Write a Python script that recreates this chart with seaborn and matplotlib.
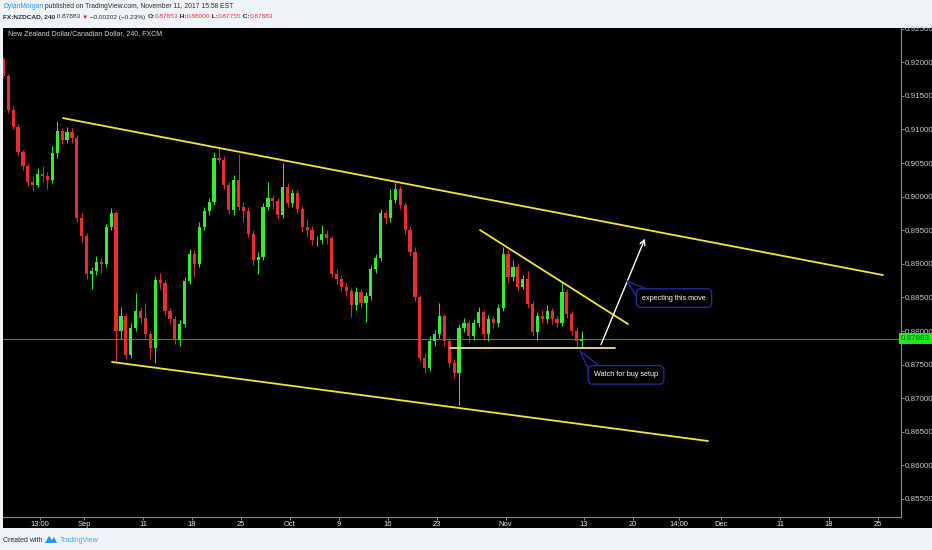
import numpy as np
import matplotlib
matplotlib.use("Agg")
import matplotlib.pyplot as plt
import matplotlib.transforms as mtransforms
from matplotlib.patches import Rectangle, Polygon
import seaborn as sns

# NZDCAD (x = trading day since Aug 21)
first_open = 0.9205
closes = [
    0.9180, 0.9129, 0.9104, 0.9066, 0.9045, 0.9022, 0.9018, 0.9034, 0.9030, 0.9025,
    0.9065, 0.9098, 0.9085, 0.9096, 0.9088, 0.8968, 0.8942, 0.8885, 0.8890, 0.8902,
    0.8900, 0.8955, 0.8975, 0.8800, 0.8822, 0.8765, 0.8805, 0.8830, 0.8820, 0.8795,
    0.8775, 0.8876, 0.8872, 0.8830, 0.8818, 0.8787, 0.8810, 0.8875, 0.8914, 0.8900,
    0.8955, 0.8978, 0.8992, 0.9058, 0.9055, 0.9018, 0.8980, 0.9025, 0.8985, 0.8978,
    0.8945, 0.8905, 0.8910, 0.8985, 0.8998, 0.8993, 0.8972, 0.9015, 0.8990, 0.9005,
    0.8982, 0.8955, 0.8950, 0.8935, 0.8935, 0.8945, 0.8938, 0.8885, 0.8878, 0.8866,
    0.8860, 0.8838, 0.8858, 0.8842, 0.8852, 0.8893, 0.8908, 0.8975, 0.8968, 0.8995,
    0.9012, 0.8988, 0.8950, 0.8918, 0.8850, 0.8760, 0.8745, 0.8785, 0.8795, 0.8822,
    0.8785, 0.8752, 0.8738, 0.8805, 0.8812, 0.8792, 0.8812, 0.8828, 0.8795, 0.8818,
    0.8812, 0.8835, 0.8915, 0.8880, 0.8895, 0.8866, 0.8878, 0.8840, 0.8798, 0.8822,
    0.8818, 0.8830, 0.8818, 0.8812, 0.8858, 0.8825, 0.8800, 0.8785, 0.87883]
highs = [
    0.9208, 0.9183, 0.9135, 0.9108, 0.9070, 0.9050, 0.9030, 0.9042, 0.9046, 0.9036,
    0.9076, 0.9112, 0.9102, 0.9104, 0.9102, 0.9092, 0.8975, 0.8946, 0.8895, 0.8912,
    0.8908, 0.8960, 0.8983, 0.8978, 0.8836, 0.8826, 0.8812, 0.8856, 0.8836, 0.8842,
    0.8800, 0.8882, 0.8886, 0.8876, 0.8834, 0.8822, 0.8816, 0.8880, 0.8922, 0.8920,
    0.8962, 0.8985, 0.8998, 0.9066, 0.9076, 0.9060, 0.9022, 0.9032, 0.9064, 0.8992,
    0.8984, 0.8950, 0.8918, 0.8990, 0.9022, 0.9002, 0.8998, 0.9050, 0.9020, 0.9012,
    0.9010, 0.8986, 0.8966, 0.8956, 0.8942, 0.8958, 0.8950, 0.8942, 0.8892, 0.8884,
    0.8872, 0.8864, 0.8866, 0.8862, 0.8858, 0.8898, 0.8914, 0.8982, 0.8980, 0.9012,
    0.9021, 0.9016, 0.8992, 0.8956, 0.8925, 0.8854, 0.8766, 0.8792, 0.8802, 0.8842,
    0.8826, 0.8790, 0.8758, 0.8810, 0.8820, 0.8816, 0.8818, 0.8836, 0.8832, 0.8824,
    0.8822, 0.8840, 0.8925, 0.8920, 0.8905, 0.8900, 0.8884, 0.8890, 0.8844, 0.8828,
    0.8832, 0.8838, 0.8834, 0.8822, 0.8873, 0.8862, 0.8830, 0.8806, 0.8800]
lows = [
    0.9176, 0.9124, 0.9100, 0.9060, 0.9040, 0.9016, 0.9008, 0.9014, 0.9022, 0.9012,
    0.9020, 0.9058, 0.9078, 0.9080, 0.9080, 0.8962, 0.8932, 0.8878, 0.8862, 0.8884,
    0.8886, 0.8895, 0.8950, 0.8754, 0.8788, 0.8758, 0.8760, 0.8800, 0.8810, 0.8790,
    0.8758, 0.8752, 0.8862, 0.8824, 0.8812, 0.8780, 0.8778, 0.8806, 0.8870, 0.8880,
    0.8896, 0.8950, 0.8972, 0.8988, 0.9050, 0.9012, 0.8974, 0.8972, 0.8980, 0.8962,
    0.8940, 0.8898, 0.8885, 0.8905, 0.8980, 0.8982, 0.8966, 0.8968, 0.8985, 0.8985,
    0.8976, 0.8948, 0.8940, 0.8928, 0.8926, 0.8930, 0.8930, 0.8880, 0.8870, 0.8860,
    0.8852, 0.8821, 0.8832, 0.8834, 0.8813, 0.8846, 0.8886, 0.8904, 0.8960, 0.8962,
    0.8990, 0.8982, 0.8944, 0.8912, 0.8844, 0.8755, 0.8738, 0.8740, 0.8778, 0.8790,
    0.8778, 0.8746, 0.8730, 0.8690, 0.8798, 0.8784, 0.8786, 0.8806, 0.8786, 0.8785,
    0.8804, 0.8806, 0.8830, 0.8872, 0.8874, 0.8860, 0.8862, 0.8834, 0.8792, 0.8787,
    0.8812, 0.8812, 0.8810, 0.8806, 0.8808, 0.8820, 0.8794, 0.8776, 0.87755]

tick_days = [4.5, 9, 15, 20, 25, 30, 35, 40, 45, 52, 60, 65, 69.7, 74, 80, 85, 90]
tick_labels = ["13:00", "Sep", "11", "18", "25", "Oct", "9", "16", "23", "Nov",
               "13", "20", "14:00", "Dec", "11", "18", "25"]
price_ticks = [0.855, 0.860, 0.865, 0.870, 0.875, 0.880, 0.885, 0.890,
               0.895, 0.900, 0.905, 0.910, 0.915, 0.920, 0.925]

# drawings (day, price)
upper_line = ([6.84, 90.51], [0.91169, 0.88833])
lower_line = ([11.84, 72.65], [0.87539, 0.86363])
wedge_line = ([49.39, 64.49], [0.89503, 0.88104])
support_line = ([46.33, 63.16], [0.8775, 0.8775])
arrow_move = ([61.63, 66.33], [0.8776, 0.89414])

W, H = 932, 550
sns.set_theme(style="dark", rc={"axes.facecolor": "black"})
plt.rcParams["font.family"] = ["Liberation Sans", "DejaVu Sans"]
NARROW = ["Liberation Sans Narrow", "Liberation Sans", "DejaVu Sans"]

fig = plt.figure(figsize=(W / 100, H / 100), dpi=100, facecolor="#f0f3f7")


def fx(px):
    return px / W


def fy(py):
    return 1 - py / H


fig.patches.append(Rectangle((fx(3), fy(528)), (W - 3) / W, 500 / H,
                             transform=fig.transFigure, fc="black", ec="none", zorder=-5))

ax = fig.add_axes([fx(3), fy(517), (901 - 3) / W, (517 - 28) / H])
ax.set_facecolor("black")
ax.grid(False)

n = len(closes)
x = np.arange(n) * 0.5 + 0.75
c = np.array(closes)
o = np.r_[first_open, c[:-1]]
colors = np.where(c >= o, "#33ec33", "#e62e2e")
ax.vlines(x, lows, highs, color=colors, lw=0.7, zorder=2)
ax.bar(x, np.abs(c - o), bottom=np.minimum(o, c), width=0.32, color=colors,
       linewidth=0, zorder=3)

ax.axhline(closes[-1], color="#1e9e1e", lw=0.8, zorder=1)

yellow = "#f2e43a"
for (xs, ys), col in [(upper_line, yellow), (lower_line, yellow), (wedge_line, yellow),
                      (support_line, "#ece08e")]:
    sns.lineplot(x=xs, y=ys, ax=ax, color=col, lw=1.3, zorder=4)

ax.annotate("", xy=(arrow_move[0][1], arrow_move[1][1]),
            xytext=(arrow_move[0][0], arrow_move[1][0]),
            arrowprops=dict(arrowstyle="->", color="white", lw=1.0, mutation_scale=9),
            zorder=5)

navy = "#1f2c94"
callouts = [
    ("expecting this move", (69.18, 0.8849), (64.39, 0.88742), [(65.41, 0.88505), (66.43, 0.88623)]),
    ("Watch for buy setup", (64.29, 0.87347), (59.59, 0.87703), [(60.61, 0.87377), (61.43, 0.87495)]),
]
for label, (bx, by), (tx, ty), base in callouts:
    for px_, py_ in base:
        ax.plot([tx, px_], [ty, py_], color=navy, lw=1.0, zorder=6)
    ax.text(bx, by, label, color="white", fontsize=5.2, family=NARROW, ha="center", va="center",
            zorder=7, bbox=dict(boxstyle="round,pad=0.8,rounding_size=0.6", fc="black",
                                ec=navy, lw=1.0))

ax.set_xlim(0.714, 92.35)
ax.set_ylim(0.85232, 0.9251)

for side in ["top", "left"]:
    ax.spines[side].set_visible(False)
for side in ["right", "bottom"]:
    ax.spines[side].set_visible(True)
    ax.spines[side].set_color("#8a8a8a")
    ax.spines[side].set_linewidth(0.8)

ax.yaxis.tick_right()
ax.set_yticks(price_ticks)
ax.set_yticklabels([f"{v:.5f}" for v in price_ticks])
ax.set_xticks(tick_days)
ax.set_xticklabels(tick_labels)
ax.tick_params(axis="y", which="both", right=True, left=False, colors="#9a9a9a",
               labelcolor="#c8c8c8", labelsize=5.8, length=2, width=0.6, pad=0.5)
ax.tick_params(axis="x", bottom=True, colors="#9a9a9a", labelcolor="#e6e6e6",
               labelsize=5.4, length=2, width=0.6, pad=1.0)
for lab in ax.get_xticklabels():
    lab.set_family(NARROW)
ax.set_xlabel("")
ax.set_ylabel("")

blend = mtransforms.blended_transform_factory(ax.transAxes, ax.transData)
ax.text(1.0, closes[-1], f"{closes[-1]:.5f}", transform=blend, ha="left", va="center",
        fontsize=5.8, color="#0f6a0f", clip_on=False, zorder=8,
        bbox=dict(boxstyle="square,pad=0.25", fc="#22e622", ec="none"))

ax.text(5 / (901 - 3), 1 - (34 - 28) / (517 - 28), "New Zealand Dollar/Canadian Dollar, 240, FXCM",
        transform=ax.transAxes, color="#d4d4d4", fontsize=5.0, ha="left", va="center")

renderer = fig.canvas.get_renderer()


def write_runs(x_px, y_px, runs, size):
    xpos = fx(x_px)
    for s, col, wt in runs:
        t = fig.text(xpos, fy(y_px), s, color=col, fontsize=size, fontweight=wt,
                     ha="left", va="center", family=["Liberation Sans", "DejaVu Sans"])
        xpos += t.get_window_extent(renderer).width / fig.bbox.width


dark = "#2a2e39"
red = "#e0393e"
write_runs(3, 7, [("DylanMorgan", "#2196f3", "normal"),
                  (" published on TradingView.com, November 11, 2017 15:58 EST", dark, "normal")], 4.85)
write_runs(3, 17, [("FX:NZDCAD, 240", dark, "bold"), (" 0.87883 ", dark, "normal"),
                   ("▼", "#c62828", "normal"), (" \u22120.00202 (\u22120.23%) ", dark, "normal"),
                   ("O:", dark, "bold"), ("0.87853", red, "normal"),
                   (" H:", dark, "bold"), ("0.88000", red, "normal"),
                   (" L:", dark, "bold"), ("0.87755", red, "normal"),
                   (" C:", dark, "bold"), ("0.87883", red, "normal")], 4.65)

write_runs(3, 540, [("Created with", dark, "normal")], 5.0)
fig.patches.append(Polygon([(fx(45), fy(543)), (fx(49), fy(536)), (fx(52), fy(540)),
                            (fx(54), fy(537)), (fx(57), fy(543))],
                           closed=True, transform=fig.transFigure, fc="#2196f3", ec="none"))
write_runs(60, 540, [("TradingView", "#42a5f5", "normal")], 5.0)

fig.savefig("out.png", dpi=100, facecolor=fig.get_facecolor())
